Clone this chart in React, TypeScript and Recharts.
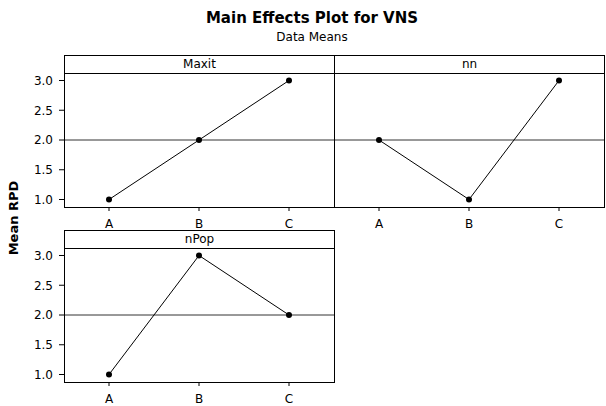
import React from "react";
import { LineChart, Line, XAxis, YAxis, ReferenceLine } from "recharts";

const levels = ["A", "B", "C"];
const maxitMeans = [1.0, 2.0, 3.0];
const nnMeans = [2.0, 1.0, 3.0];
const nPopMeans = [1.0, 3.0, 2.0];
const yTicks = [1.0, 1.5, 2.0, 2.5, 3.0];
const grandMean = 2.0;

const FONT = '"DejaVu Sans", Verdana, sans-serif';
const PLOT_W = 270;
const PLOT_H = 134;
const HEAD_H = 18;

interface PanelProps {
  name: string;
  values: number[];
  left: number;
  top: number;
  showY: boolean;
}

function Panel({ name, values, left, top, showY }: PanelProps) {
  const data = levels.map((level, i) => ({ level, mean: values[i] }));
  const yw = showY ? 64 : 0;
  return (
    <>
      <div
        style={{
          position: "absolute",
          left: left - yw,
          top: top + HEAD_H,
        }}
      >
        <LineChart
          width={yw + PLOT_W + 1}
          height={PLOT_H + 30}
          data={data}
          margin={{ top: 0, right: 1, left: 0, bottom: 0 }}
        >
          <XAxis
            dataKey="level"
            padding={{ left: 45, right: 45 }}
            axisLine={false}
            tickLine={{ stroke: "#000" }}
            tickSize={4}
            tickMargin={8}
            height={30}
            tick={{ fill: "#000", fontSize: 12, fontFamily: FONT }}
          />
          <YAxis
            hide={!showY}
            width={yw}
            domain={[0.874, 3.126]}
            ticks={yTicks}
            allowDataOverflow
            axisLine={false}
            tickLine={{ stroke: "#000" }}
            tickSize={5}
            tickMargin={6}
            tickFormatter={(v: number) => v.toFixed(1)}
            tick={{ fill: "#000", fontSize: 12, fontFamily: FONT }}
          />
          <ReferenceLine y={grandMean} stroke="#333" strokeWidth={1} />
          <Line
            type="linear"
            dataKey="mean"
            stroke="#000"
            strokeWidth={1}
            dot={{ r: 3, fill: "#000", stroke: "#000", strokeWidth: 0 }}
            isAnimationActive={false}
          />
        </LineChart>
      </div>
      <div
        style={{
          position: "absolute",
          left,
          top,
          width: PLOT_W + 1,
          height: HEAD_H + PLOT_H + 1,
          border: "1px solid #000",
          boxSizing: "border-box",
        }}
      />
      <div
        style={{
          position: "absolute",
          left,
          top,
          width: PLOT_W + 1,
          height: HEAD_H + 1,
          borderBottom: "1px solid #000",
          boxSizing: "border-box",
          textAlign: "center",
          fontFamily: FONT,
          fontSize: 12,
          lineHeight: `${HEAD_H + 1}px`,
          color: "#000",
        }}
      >
        {name}
      </div>
    </>
  );
}

export default function App() {
  return (
    <div
      style={{
        position: "absolute",
        left: 0,
        top: 0,
        width: 606,
        height: 406,
        background: "#fff",
        overflow: "hidden",
      }}
    >
      <svg
        width={606}
        height={406}
        style={{ position: "absolute", left: 0, top: 0 }}
      >
        <text
          x={312}
          y={23}
          textAnchor="middle"
          fontFamily={FONT}
          fontWeight="bold"
          fontSize={15}
          fill="#000"
        >
          Main Effects Plot for VNS
        </text>
        <text
          x={312}
          y={41}
          textAnchor="middle"
          fontFamily={FONT}
          fontSize={12}
          fill="#000"
        >
          Data Means
        </text>
        <text
          transform="translate(17.5,218) rotate(-90)"
          textAnchor="middle"
          fontFamily={FONT}
          fontWeight="bold"
          fontSize={13}
          fill="#000"
        >
          Mean RPD
        </text>
      </svg>
      <Panel name="Maxit" values={maxitMeans} left={64} top={55} showY />
      <Panel name="nn" values={nnMeans} left={334} top={55} showY={false} />
      <Panel name="nPop" values={nPopMeans} left={64} top={230} showY />
    </div>
  );
}
